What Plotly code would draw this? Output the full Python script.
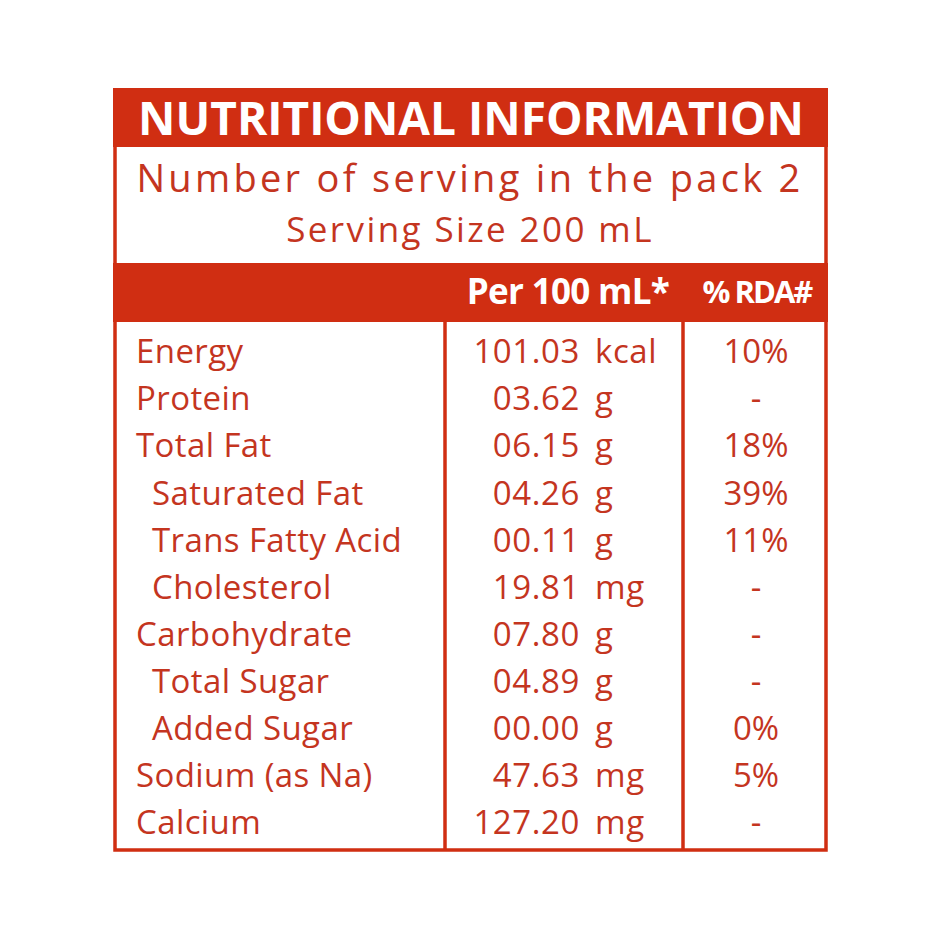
import plotly.graph_objects as go

RED = "#d02e12"
TEXT_RED = "#c4351f"
FONT = "Open Sans"

title = "NUTRITIONAL INFORMATION"
subtitle_1 = "Number of serving in the pack 2"
subtitle_2 = "Serving Size 200 mL"
col_headers = ["Per 100 mL*", "% RDA#"]

nutrients = ["Energy", "Protein", "Total Fat", "  Saturated Fat", "  Trans Fatty Acid", "  Cholesterol",
             "Carbohydrate", "  Total Sugar", "  Added Sugar", "Sodium (as Na)", "Calcium"]
amounts = ["101.03", "03.62", "06.15", "04.26", "00.11", "19.81", "07.80", "04.89", "00.00", "47.63", "127.20"]
units = ["kcal", "g", "g", "g", "g", "mg", "g", "g", "g", "mg", "mg"]
rda = ["10%", "-", "18%", "39%", "11%", "-", "-", "-", "0%", "5%", "-"]

row_y = [355 + 47.1 * i for i in range(len(nutrients))]

fig = go.Figure()


def add_text(x, y, text, size, pos="middle center", color=TEXT_RED, weight=400, spacing=0):
    # meta holds the letter spacing, applied by the post script below
    fig.add_trace(go.Scatter(x=x, y=y, text=text, mode="text", textposition=pos, meta=spacing,
                             textfont=dict(family=FONT, size=size, color=color, weight=weight),
                             hoverinfo="skip", showlegend=False, cliponaxis=False))


# frame and bands, kept under the text
fig.add_shape(type="rect", x0=115, x1=826, y0=90, y1=850, line=dict(color=RED, width=3.5), layer="below")
fig.add_shape(type="rect", x0=113, x1=828, y0=88, y1=147, line_width=0, fillcolor=RED, layer="below")
fig.add_shape(type="rect", x0=113, x1=828, y0=263, y1=322, line_width=0, fillcolor=RED, layer="below")
fig.add_shape(type="line", x0=445, x1=445, y0=322, y1=850, line=dict(color=RED, width=3.5), layer="below")
fig.add_shape(type="line", x0=683, x1=683, y0=322, y1=850, line=dict(color=RED, width=3.5), layer="below")

add_text([471], [123], [title], 46, color="white", weight=700)
add_text([470], [182], [subtitle_1], 38, spacing=3.3)
add_text([470], [233], [subtitle_2], 35, spacing=2.4)
add_text([568], [295], col_headers[:1], 35, color="white", weight=700, spacing=-0.7)
add_text([757], [295], col_headers[1:], 31, color="white", weight=700, spacing=-2)

indented = [n.startswith("  ") for n in nutrients]
add_text([152 if i else 136 for i in indented], row_y, [n.strip() for n in nutrients], 33, "middle right", spacing=0.4)
add_text([580] * len(amounts), row_y, amounts, 33, "middle left", spacing=0.6)
add_text([595] * len(units), row_y, units, 33, "middle right", spacing=0.6)
add_text([756] * len(rda), row_y, rda, 33)

# page has an 8px body margin, so the plot starts at 8
fig.update_layout(width=932, height=932, margin=dict(l=0, r=0, t=0, b=0),
                  paper_bgcolor="white", plot_bgcolor="white",
                  xaxis=dict(range=[8, 940], visible=False, fixedrange=True),
                  yaxis=dict(range=[940, 8], visible=False, fixedrange=True))

letter_spacing = """
var gd = document.getElementById('{plot_id}');
gd.querySelectorAll('.scatterlayer .trace').forEach(function (t, i) {
    t.querySelectorAll('text').forEach(function (s) {
        s.style.letterSpacing = gd.data[i].meta + 'px';
    });
});
"""

fig.write_html("out.html", config={"displayModeBar": False}, post_script=letter_spacing)
